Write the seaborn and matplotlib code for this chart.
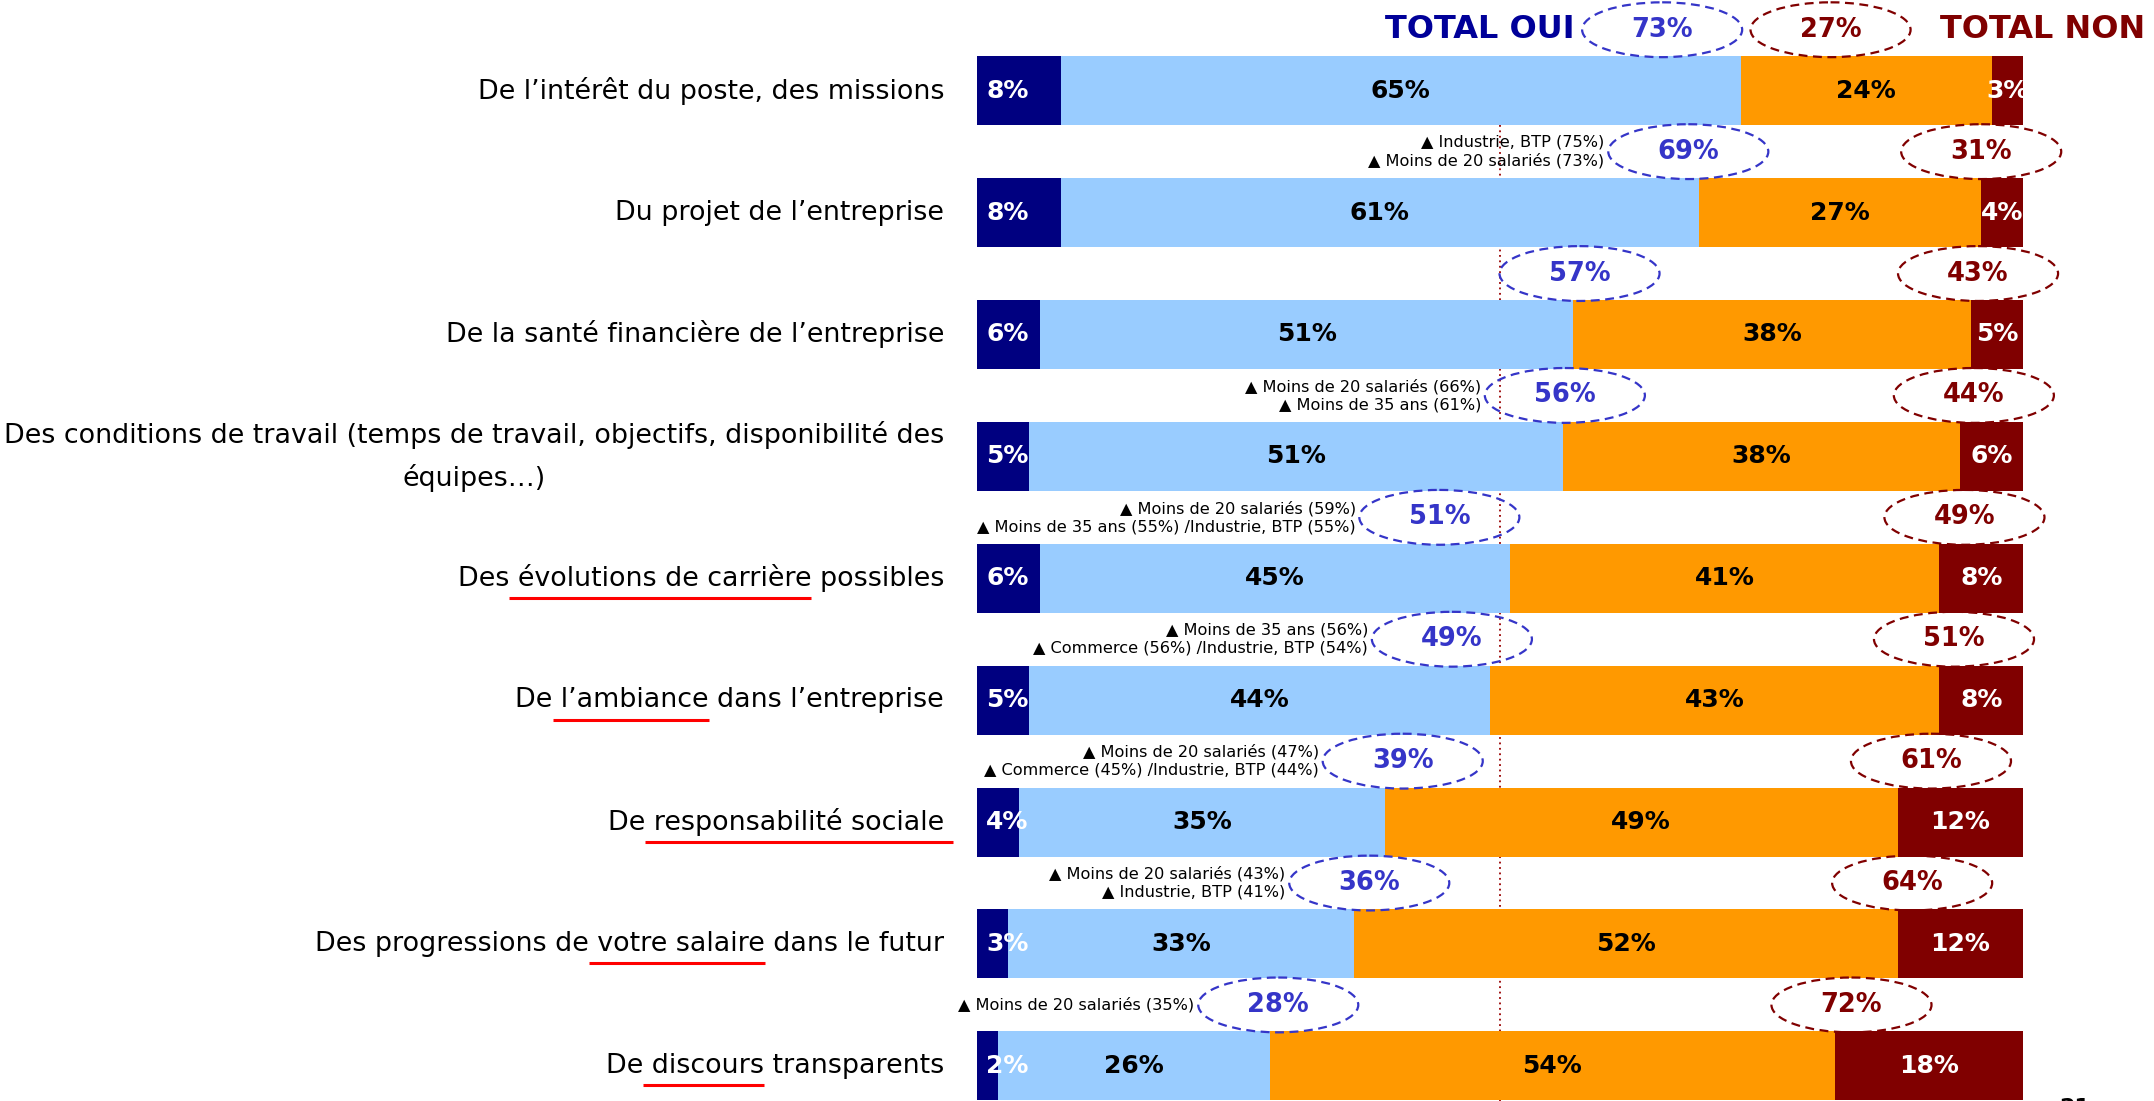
import numpy as np
import pandas as pd
import matplotlib
matplotlib.use("Agg")
import matplotlib.pyplot as plt
import seaborn as sns
from matplotlib.patches import Ellipse

# ---------------- data ----------------
categories = [
    "De l\u2019intérêt du poste, des missions",
    "Du projet de l\u2019entreprise",
    "De la santé financière de l\u2019entreprise",
    "Des conditions de travail (temps de travail, objectifs, disponibilité des\néquipes…)",
    "Des évolutions de carrière possibles",
    "De l\u2019ambiance dans l\u2019entreprise",
    "De responsabilité sociale",
    "Des progressions de votre salaire dans le futur",
    "De discours transparents",
]
underlined = [None, None, None, None, "évolutions de carrière", "l\u2019ambiance",
              "responsabilité sociale", "votre salaire", "discours"]

oui_tres = [8, 8, 6, 5, 6, 5, 4, 3, 2]
oui_plutot = [65, 61, 51, 51, 45, 44, 35, 33, 26]
non_plutot = [24, 27, 38, 38, 41, 43, 49, 52, 54]
non_pas = [3, 4, 5, 6, 8, 8, 12, 12, 18]
total_oui = [73, 69, 57, 56, 51, 49, 39, 36, 28]
total_non = [27, 31, 43, 44, 49, 51, 61, 64, 72]

annotations = [
    [],
    ["▲ Industrie, BTP (75%)", "▲ Moins de 20 salariés (73%)"],
    [],
    ["▲ Moins de 20 salariés (66%)", "▲ Moins de 35 ans (61%)"],
    ["▲ Moins de 20 salariés (59%)", "▲ Moins de 35 ans (55%) /Industrie, BTP (55%)"],
    ["▲ Moins de 35 ans (56%)", "▲ Commerce (56%) /Industrie, BTP (54%)"],
    ["▲ Moins de 20 salariés (47%)", "▲ Commerce (45%) /Industrie, BTP (44%)"],
    ["▲ Moins de 20 salariés (43%)", "▲ Industrie, BTP (41%)"],
    ["▲ Moins de 20 salariés (35%)"],
]

# ---------------- layout (not data) ----------------
oui_oval_x = [65.5, 68.0, 57.6, 56.2, 44.2, 45.4, 40.7, 37.5, 28.8]
non_oval_x = [81.6, 96.0, 95.7, 95.3, 94.4, 93.4, 91.2, 89.4, 83.6]

NAVY = "#000080"
LIGHT = "#99CCFF"
ORANGE = "#FF9900"
MAROON = "#800000"
OVAL_BLUE = "#3535C8"

sns.set_theme(style="white")
plt.rcParams["font.family"] = ["DejaVu Sans"]

fig = plt.figure(figsize=(21.54, 11.01), dpi=100)
ax = fig.add_axes([977 / 2154, 0.0, 1 - 977 / 2154, 1.0])

c1 = np.array(oui_tres)
c2 = c1 + np.array(oui_plutot)
c3 = c2 + np.array(non_plutot)
c4 = c3 + np.array(non_pas)
df = pd.DataFrame({"cat": categories, "c1": c1, "c2": c2, "c3": c3, "c4": c4})

BAR_H = 0.566
for col, color in [("c4", MAROON), ("c3", ORANGE), ("c2", LIGHT), ("c1", NAVY)]:
    sns.barplot(data=df, x=col, y="cat", orient="h", color=color, saturation=1,
                width=BAR_H, errorbar=None, linewidth=0, edgecolor="none", ax=ax,
                zorder=2)

ax.set_xlim(0, 112.52)
ax.set_ylim(8.288, -0.744)
ax.set_xticks([])
ax.set_yticks([])
ax.set_xlabel("")
ax.set_ylabel("")
for s in ax.spines.values():
    s.set_visible(False)
ax.set_facecolor("white")

# dotted reference line at 50%
ax.vlines(50, BAR_H / 2, 8.4, colors="#990000", linestyles=(0, (1, 2)), lw=1.3, zorder=1)

# segment labels
VFS = 18
for i in range(len(categories)):
    ax.text(2.9, i, f"{oui_tres[i]}%", color="white", ha="center", va="center",
            fontsize=VFS, fontweight="bold", zorder=5)
    ax.text(c1[i] + oui_plutot[i] / 2, i, f"{oui_plutot[i]}%", color="black", ha="center",
            va="center", fontsize=VFS, fontweight="bold", zorder=5)
    ax.text(c2[i] + non_plutot[i] / 2, i, f"{non_plutot[i]}%", color="black", ha="center",
            va="center", fontsize=VFS, fontweight="bold", zorder=5)
    ax.text(c3[i] + non_pas[i] / 2, i, f"{non_pas[i]}%", color="white", ha="center",
            va="center", fontsize=VFS, fontweight="bold", zorder=5, clip_on=False)

# ovals with totals
OW, OH = 15.3, 0.45
for i in range(len(categories)):
    y = i - 0.5
    for x, val, col in [(oui_oval_x[i], total_oui[i], OVAL_BLUE),
                        (non_oval_x[i], total_non[i], MAROON)]:
        ax.add_patch(Ellipse((x, y), OW, OH, fill=False, edgecolor=col, lw=1.6,
                             linestyle=(0, (4, 2.5)), clip_on=False, zorder=4))
        ax.text(x, y, f"{val}%", color=col, ha="center", va="center", fontsize=18.5,
                fontweight="bold", zorder=5)
    if annotations[i]:
        ax.text(oui_oval_x[i] - 8.0, y, "\n".join(annotations[i]), ha="right", va="center",
                multialignment="right", fontsize=11.6, linespacing=1.25, color="black",
                zorder=5)

# header
ax.text(57.1, -0.5, "TOTAL OUI", ha="right", va="center", fontsize=23,
        fontweight="bold", color="#000099")
ax.text(92.1, -0.5, "TOTAL NON", ha="left", va="center", fontsize=23,
        fontweight="bold", color=MAROON, clip_on=False)

# category labels
LFS = 19.4
label_objs = []
for i, cat in enumerate(categories):
    t = ax.text(-3.15, i, cat, ha="right", va="center", multialignment="center",
                fontsize=LFS, linespacing=1.65, color="black", clip_on=False)
    label_objs.append(t)

fig.canvas.draw()
renderer = fig.canvas.get_renderer()


def text_width(s):
    tmp = fig.text(0, 0, s, fontsize=LFS)
    w = tmp.get_window_extent(renderer).width
    tmp.remove()
    return w


inv = ax.transData.inverted()
for i, (cat, u) in enumerate(zip(categories, underlined)):
    if not u:
        continue
    bb = label_objs[i].get_window_extent(renderer)
    idx = cat.find(u)
    x_start = bb.x0 + text_width(cat[:idx].rstrip())
    x_end = bb.x0 + text_width(cat[:idx + len(u)])
    if idx + len(u) == len(cat):
        x_end += text_width("a a") - text_width("aa")
    xs = inv.transform([(x_start, 0), (x_end, 0)])[:, 0]
    ax.plot(xs, [i + 0.16, i + 0.16], color="red", lw=2.2, clip_on=False,
            solid_capstyle="butt", zorder=5)

# page number (mostly cut off at the bottom edge, as in the original slide)
fig.text(2075 / 2154, -0.006, "21", ha="center", va="center", fontsize=16,
         fontweight="bold", color="black")

fig.savefig("out.png", dpi=100, facecolor="white")
